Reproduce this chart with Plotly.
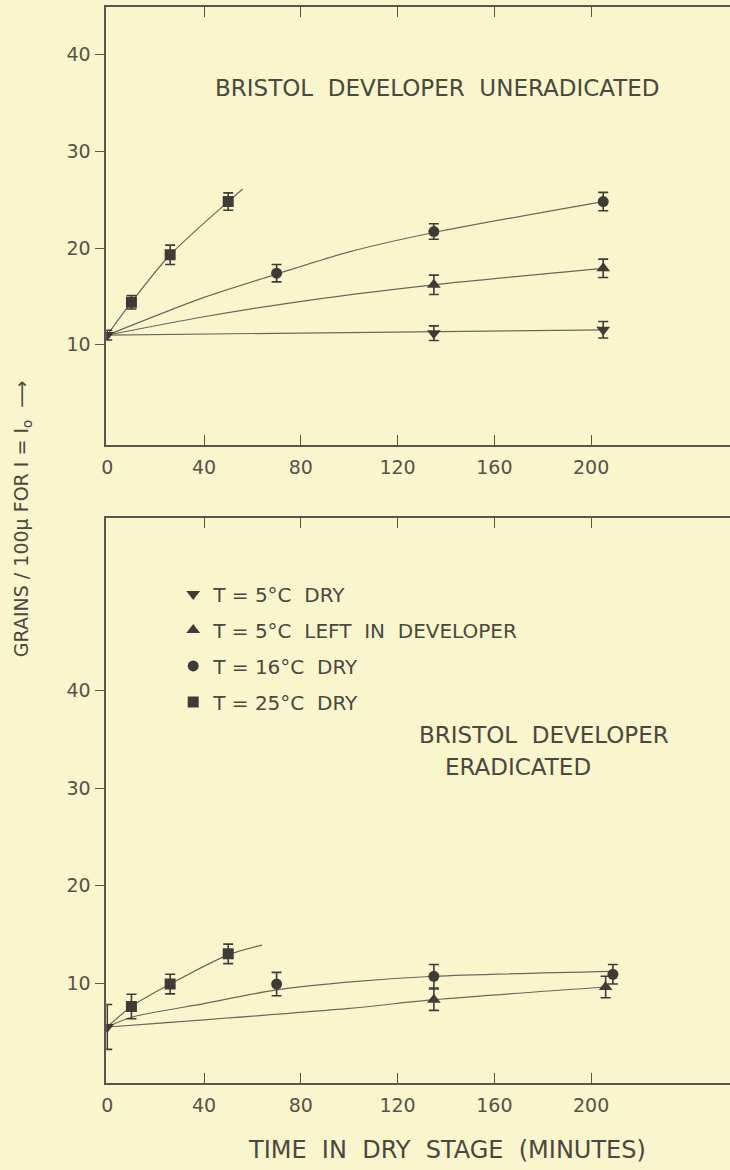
import plotly.graph_objects as go

# ---------------- data : top panel (developer uneradicated) ----------------
top_5dry_x = [0, 135, 205]
top_5dry_y = [11.0, 11.2, 11.55]
top_5dry_err = [0.5, 0.75, 0.85]

top_5dev_x = [135, 205]
top_5dev_y = [16.2, 17.9]
top_5dev_err = [1.0, 0.95]

top_16_x = [70, 135, 205]
top_16_y = [17.4, 21.7, 24.8]
top_16_err = [0.9, 0.8, 0.95]

top_25_x = [10, 26, 50]
top_25_y = [14.4, 19.3, 24.8]
top_25_err = [0.7, 1.0, 0.9]

# fitted curves
top_fit_5dry_x = [0, 205]
top_fit_5dry_y = [11.0, 11.55]
top_fit_5dev_x = [0, 40, 89, 135, 205]
top_fit_5dev_y = [11.0, 12.9, 14.8, 16.2, 17.9]
top_fit_16_x = [0, 40, 70, 100, 135, 205]
top_fit_16_y = [11.0, 14.9, 17.3, 19.6, 21.6, 24.8]
top_fit_25_x = [0, 10, 26, 50, 56]
top_fit_25_y = [11.0, 14.4, 19.3, 24.8, 26.1]

# ---------------- data : bottom panel (developer eradicated) ----------------
bot_5dry_x = [0]
bot_5dry_y = [5.5]
bot_5dry_err = [2.3]

bot_5dev_x = [135, 206]
bot_5dev_y = [8.3, 9.6]
bot_5dev_err = [1.1, 1.1]

bot_16_x = [70, 135, 209]
bot_16_y = [9.9, 10.7, 10.9]
bot_16_err = [1.2, 1.2, 1.0]

bot_25_x = [10, 26, 50]
bot_25_y = [7.6, 9.9, 13.0]
bot_25_err = [1.25, 1.0, 1.0]

bot_fit_5dev_x = [0, 100, 135, 206]
bot_fit_5dev_y = [5.5, 7.4, 8.3, 9.6]
bot_fit_16_x = [0, 10, 40, 70, 102, 135, 209]
bot_fit_16_y = [5.5, 6.5, 7.9, 9.3, 10.15, 10.7, 11.2]
bot_fit_25_x = [0, 10, 26, 50, 64]
bot_fit_25_y = [5.5, 7.6, 9.9, 12.9, 13.9]

x_ticks = [0, 40, 80, 120, 160, 200]
y_ticks = [10, 20, 30, 40]

series_names = ["T = 5°C  DRY", "T = 5°C  LEFT  IN  DEVELOPER", "T = 16°C  DRY", "T = 25°C  DRY"]
series_symbols = ["triangle-down", "triangle-up", "circle", "square"]

# ---------------- style ----------------
BG = "#f9f6cd"
INK = "#3e3c36"
LINE = "#6a685e"
AXIS = "#57554c"
TXT = "#4a483f"
FONT = "DejaVu Sans"

fig = go.Figure()


def add_points(x, y, err, sym, name, xa, ya, show):
    fig.add_trace(go.Scatter(
        x=x, y=y, mode="markers", name=name, showlegend=show, legendgroup=name,
        xaxis=xa, yaxis=ya,
        marker=dict(symbol=sym, size=11 if sym in ("circle", "square") else 12, color=INK),
        error_y=dict(type="data", array=err, visible=True, color=INK, thickness=1.6, width=5),
    ))


def add_fit(x, y, xa, ya):
    fig.add_trace(go.Scatter(
        x=x, y=y, mode="lines", showlegend=False, hoverinfo="skip",
        xaxis=xa, yaxis=ya,
        line=dict(color=LINE, width=1.2, shape="spline", smoothing=0.8),
    ))


# top panel
add_fit(top_fit_5dry_x, top_fit_5dry_y, "x", "y")
add_fit(top_fit_5dev_x, top_fit_5dev_y, "x", "y")
add_fit(top_fit_16_x, top_fit_16_y, "x", "y")
add_fit(top_fit_25_x, top_fit_25_y, "x", "y")
add_points(top_5dry_x, top_5dry_y, top_5dry_err, series_symbols[0], series_names[0], "x", "y", True)
add_points(top_5dev_x, top_5dev_y, top_5dev_err, series_symbols[1], series_names[1], "x", "y", True)
add_points(top_16_x, top_16_y, top_16_err, series_symbols[2], series_names[2], "x", "y", True)
add_points(top_25_x, top_25_y, top_25_err, series_symbols[3], series_names[3], "x", "y", True)

# bottom panel
add_fit(bot_fit_5dev_x, bot_fit_5dev_y, "x2", "y2")
add_fit(bot_fit_16_x, bot_fit_16_y, "x2", "y2")
add_fit(bot_fit_25_x, bot_fit_25_y, "x2", "y2")
add_points(bot_5dry_x, bot_5dry_y, bot_5dry_err, series_symbols[0], series_names[0], "x2", "y2", False)
add_points(bot_5dev_x, bot_5dev_y, bot_5dev_err, series_symbols[1], series_names[1], "x2", "y2", False)
add_points(bot_16_x, bot_16_y, bot_16_err, series_symbols[2], series_names[2], "x2", "y2", False)
add_points(bot_25_x, bot_25_y, bot_25_err, series_symbols[3], series_names[3], "x2", "y2", False)

tickfont = dict(family=FONT, size=19, color="#55534a")

xcommon = dict(
    range=[-0.4, 257.4], tickvals=x_ticks, ticks="inside", ticklen=10, tickwidth=1.4,
    tickcolor=AXIS, showline=True, linecolor=AXIS, linewidth=1.6, mirror="ticks",
    showgrid=False, zeroline=False, tickfont=tickfont, ticklabelstandoff=4,
)
ycommon = dict(
    tickvals=y_ticks, ticks="outside", ticklen=9, tickwidth=1.4, tickcolor=AXIS,
    showline=True, linecolor=AXIS, linewidth=1.6, showgrid=False, zeroline=False,
    tickfont=tickfont, ticklabelstandoff=1,
)

fig.update_layout(
    width=730, height=1170,
    margin=dict(l=0, r=0, t=0, b=0),
    paper_bgcolor=BG, plot_bgcolor=BG,
    font=dict(family=FONT, color=TXT),
    xaxis=dict(domain=[0.1397, 1.0], anchor="y", **xcommon),
    yaxis=dict(domain=[0.6197, 0.994], anchor="x", range=[-0.35, 44.9], **ycommon),
    xaxis2=dict(domain=[0.1397, 1.0], anchor="y2", **xcommon),
    yaxis2=dict(domain=[0.0744, 0.5573], anchor="x2", range=[-0.24, 57.7], **ycommon),
    legend=dict(
        x=0.232, y=0.509, xanchor="left", yanchor="top",
        bgcolor="rgba(0,0,0,0)", font=dict(family=FONT, size=20, color=TXT),
        tracegroupgap=7, itemwidth=30,
    ),
    showlegend=True,
)

ann_font = dict(family=FONT, size=23, color=TXT)


def note(text, x, y, font=ann_font, angle=0):
    fig.add_annotation(text=text, xref="paper", yref="paper", x=x, y=y,
                       xanchor="center", yanchor="middle", showarrow=False,
                       font=font, textangle=angle)


note("BRISTOL  DEVELOPER  UNERADICATED", 0.597, 0.9248)
note("BRISTOL  DEVELOPER", 0.744, 0.372)
note("ERADICATED", 0.708, 0.3444)
note("TIME  IN  DRY  STAGE  (MINUTES)", 0.6096, 0.0171, font=dict(family=FONT, size=24, color=TXT))
note("GRAINS / 100μ FOR I = I<sub>o</sub>  ⟶", 0.0233, 0.557,
     font=dict(family=FONT, size=19, color=TXT), angle=-90)

fig.write_html(
    "out.html",
    config={"displayModeBar": False},
    post_script="document.body.style.margin='0px';document.body.style.overflow='hidden';",
)
